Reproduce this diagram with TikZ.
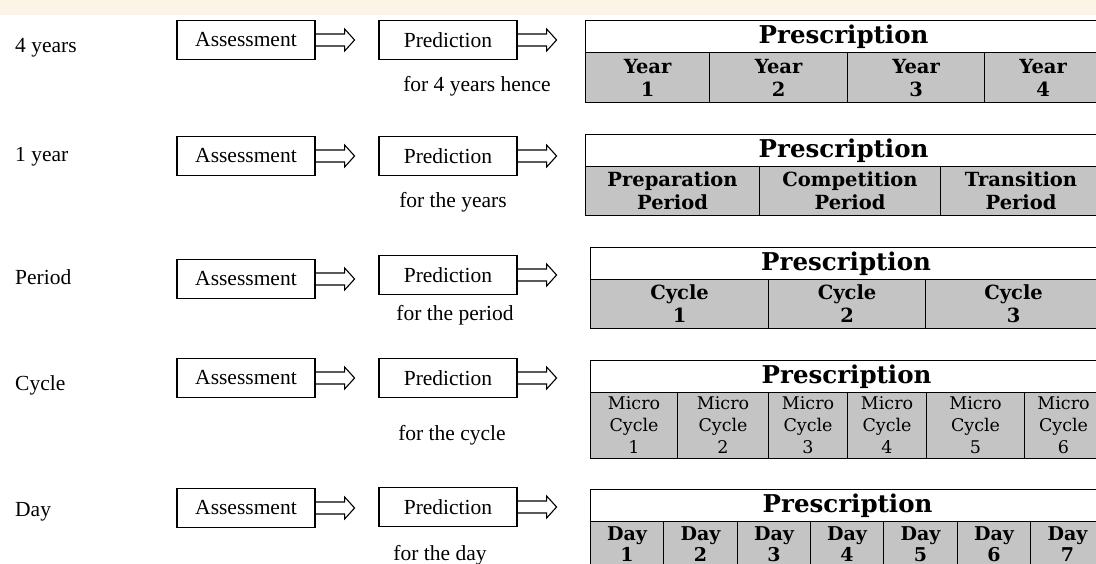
\documentclass[tikz,border=0pt]{standalone}
\usepackage{fontspec}
\setmainfont{Liberation Serif}
\newfontfamily\presfont{DejaVu Serif}
\usepackage{tikz}
\usepackage{xcolor}
\definecolor{StripCol}{RGB}{252,244,230}
\definecolor{CellCol}{RGB}{196,196,196}
\tikzstyle{StepLabel}=[anchor=west,inner sep=0pt,font=\fontsize{21.5}{24}\selectfont]
\tikzstyle{StepBox}=[draw,line width=1.2pt,minimum width=138pt,minimum height=39pt,
inner sep=0pt,font=\fontsize{21.5}{24}\selectfont]
\tikzstyle{ForText}=[inner sep=0pt,font=\fontsize{21.5}{24}\selectfont]
\tikzstyle{BlockArrow}=[line width=1.1pt,line join=miter]
\tikzstyle{PresHead}=[draw,line width=1.1pt,fill=white,anchor=north west,inner sep=0pt,
minimum height=32pt,font=\presfont\bfseries\fontsize{24.5}{26}\selectfont]
\tikzstyle{PresCell}=[draw,line width=1.1pt,fill=CellCol,anchor=north west,inner sep=0pt,
align=center,font=\presfont\bfseries\fontsize{19.5}{23}\selectfont]
\tikzstyle{MicroCell}=[PresCell,font=\presfont\fontsize{17.5}{22}\selectfont]
\tikzstyle{DayCell}=[PresCell,minimum height=45pt,font=\presfont\bfseries\fontsize{19}{21}\selectfont]
\newcommand{\blockarrow}[1]{\draw[BlockArrow](#1.east)++(0,-6)--++(29,0)--++(0,-5)
  --++(10,11)--++(-10,11)--++(0,-5)--++(-29,0);}

\begin{document}
\begin{tikzpicture}[x=1pt,y=-1pt]
        \useasboundingbox (0,0) rectangle (1096,564);
        \clip (0,0) rectangle (1096,564);
        \fill[StripCol] (0,0) rectangle (1096,15);
        % 4 years
        \node[StepLabel](l1)at(15,48){4 years};
        \node[StepBox](a1)at(246,40){Assessment};
        \node[StepBox](p1)at(448,40){Prediction};
        \node[ForText](f1)at(477,86){for 4 years hence};
        \blockarrow{a1}
        \blockarrow{p1}
        \node[PresHead,minimum width=516pt](h1)at(585,20){Prescription};
        \node[PresCell,minimum width=124pt,minimum height=50pt](c11)at(585,52){Year\\1};
        \node[PresCell,minimum width=138pt,minimum height=50pt](c12)at(709,52){Year\\2};
        \node[PresCell,minimum width=137pt,minimum height=50pt](c13)at(847,52){Year\\3};
        \node[PresCell,minimum width=117pt,minimum height=50pt](c14)at(984,52){Year\\4};
        % 1 year
        \node[StepLabel](l2)at(15,157){1 year};
        \node[StepBox](a2)at(246,156){Assessment};
        \node[StepBox](p2)at(448,156){Prediction};
        \node[ForText](f2)at(453,202){for the years};
        \blockarrow{a2}
        \blockarrow{p2}
        \node[PresHead,minimum width=516pt](h2)at(585,134){Prescription};
        \node[PresCell,minimum width=174pt,minimum height=49pt](c21)at(585,166){Preparation\\Period};
        \node[PresCell,minimum width=181pt,minimum height=49pt](c22)at(759,166){Competition\\Period};
        \node[PresCell,minimum width=161pt,minimum height=49pt](c23)at(940,166){Transition\\Period};
        % period
        \node[StepLabel](l3)at(15,277){Period};
        \node[StepBox](a3)at(246,279){Assessment};
        \node[StepBox](p3)at(448,275){Prediction};
        \node[ForText](f3)at(455,315){for the period};
        \blockarrow{a3}
        \blockarrow{p3}
        \node[PresHead,minimum width=511pt](h3)at(590,247){Prescription};
        \node[PresCell,minimum width=178pt,minimum height=49pt](c31)at(590,279){Cycle\\1};
        \node[PresCell,minimum width=157pt,minimum height=49pt](c32)at(768,279){Cycle\\2};
        \node[PresCell,minimum width=176pt,minimum height=49pt](c33)at(925,279){Cycle\\3};
        % cycle
        \node[StepLabel](l4)at(15,385){Cycle};
        \node[StepBox](a4)at(246,378){Assessment};
        \node[StepBox](p4)at(448,378){Prediction};
        \node[ForText](f4)at(452,435){for the cycle};
        \blockarrow{a4}
        \blockarrow{p4}
        \node[PresHead,minimum width=512pt](h4)at(590,360){Prescription};
        \node[MicroCell,minimum width=87pt,minimum height=66pt](c41)at(590,392){Micro\\Cycle\\1};
        \node[MicroCell,minimum width=91pt,minimum height=66pt](c42)at(677,392){Micro\\Cycle\\2};
        \node[MicroCell,minimum width=79pt,minimum height=66pt](c43)at(768,392){Micro\\Cycle\\3};
        \node[MicroCell,minimum width=79pt,minimum height=66pt](c44)at(847,392){Micro\\Cycle\\4};
        \node[MicroCell,minimum width=98pt,minimum height=66pt](c45)at(926,392){Micro\\Cycle\\5};
        \node[MicroCell,minimum width=78pt,minimum height=66pt](c46)at(1024,392){Micro\\Cycle\\6};
        % day
        \node[StepLabel](l5)at(15,512){Day};
        \node[StepBox](a5)at(246,508){Assessment};
        \node[StepBox](p5)at(448,507){Prediction};
        \node[ForText](f5)at(440,555){for the day};
        \blockarrow{a5}
        \blockarrow{p5}
        \node[PresHead,minimum width=514pt](h5)at(590,489){Prescription};
        \node[DayCell,minimum width=73pt](c51)at(590,521){Day\\1};
        \node[DayCell,minimum width=74pt](c52)at(663,521){Day\\2};
        \node[DayCell,minimum width=73pt](c53)at(737,521){Day\\3};
        \node[DayCell,minimum width=73pt](c54)at(810,521){Day\\4};
        \node[DayCell,minimum width=74pt](c55)at(883,521){Day\\5};
        \node[DayCell,minimum width=73pt](c56)at(957,521){Day\\6};
        \node[DayCell,minimum width=74pt](c57)at(1030,521){Day\\7};
    \end{tikzpicture}
\end{document}
